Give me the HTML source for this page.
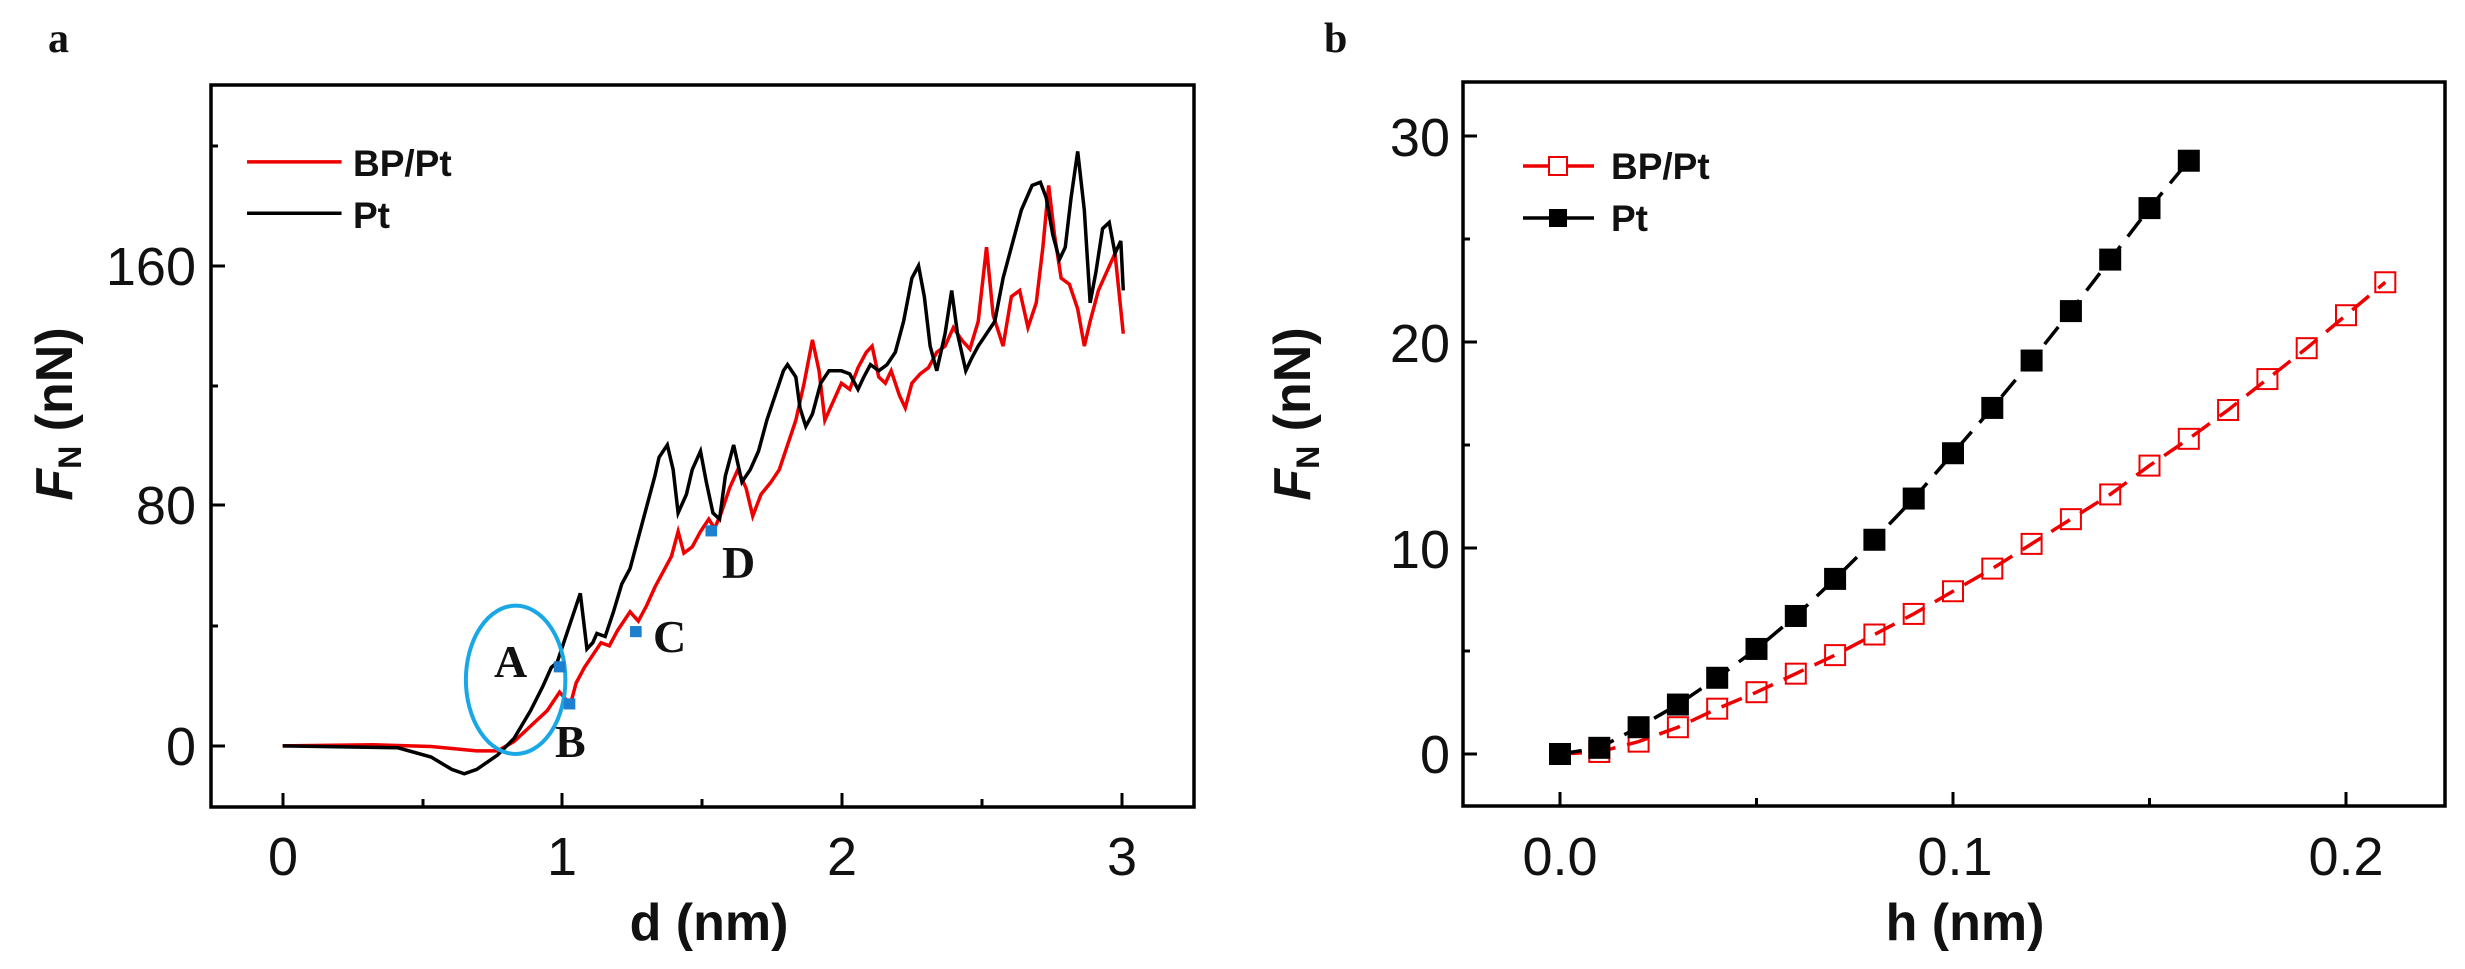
<!DOCTYPE html>
<html><head><meta charset="utf-8"><style>
html,body{margin:0;padding:0;background:#fff;}
svg{display:block;}
.t{font-family:"Liberation Sans Narrow","Liberation Sans",sans-serif;font-size:54px;fill:#111;}
.ax{font-family:"Liberation Sans Narrow","Liberation Sans",sans-serif;font-weight:bold;font-size:52px;fill:#111;}
.lg{font-family:"Liberation Sans",sans-serif;font-weight:bold;font-size:37px;fill:#111;}
.pl{font-family:"Liberation Serif",serif;font-weight:bold;font-size:42px;fill:#111;}
.lt{font-family:"Liberation Serif",serif;font-weight:bold;font-size:46px;fill:#111;}
</style></head><body>
<svg id="s" width="2465" height="969" viewBox="0 0 2465 969" xmlns="http://www.w3.org/2000/svg">
<rect width="2465" height="969" fill="#fff"/>
<!-- Panel a -->
<text class="pl" x="48" y="52">a</text>
<g transform="scale(0.829,0.618)" fill="none">
<polyline vector-effect="non-scaling-stroke" stroke="#e00" stroke-width="3.5" points="341,1207 450,1205 520,1208 575,1215 600,1215 620,1200 640,1175 660,1150 675,1120 688,1140 695,1105 705,1080 715,1060 725,1040 735,1045 745,1020 760,990 770,1005 780,980 790,950 800,925 810,900 818,860 825,895 835,885 845,860 855,840 862,855 870,830 880,790 890,760 900,790 908,835 918,800 930,780 940,760 950,720 960,680 970,620 980,550 988,600 995,680 1005,650 1015,620 1025,630 1035,595 1045,570 1052,560 1060,610 1068,620 1075,600 1085,640 1092,660 1100,620 1110,605 1120,595 1130,570 1140,560 1150,530 1160,550 1170,565 1180,520 1190,400 1198,510 1210,560 1220,480 1230,470 1240,530 1250,490 1258,400 1265,300 1272,380 1280,450 1290,460 1300,500 1308,560 1315,520 1325,470 1335,440 1345,410 1355,540"/>
<polyline vector-effect="non-scaling-stroke" stroke="#000" stroke-width="3.5" points="341,1207 480,1210 520,1225 545,1245 560,1252 575,1245 600,1222 620,1195 640,1150 655,1110 665,1080 672,1072 680,1040 690,1000 700,960 708,1050 715,1040 720,1025 730,1030 740,990 750,945 760,920 770,870 780,820 790,770 795,740 805,720 812,760 818,830 828,800 835,760 845,730 852,780 860,830 868,840 875,770 885,720 895,780 905,760 915,730 925,680 935,640 945,600 950,590 960,610 965,660 972,690 980,670 990,620 1000,600 1015,600 1025,605 1035,630 1042,610 1050,590 1060,600 1070,590 1080,570 1090,520 1100,450 1108,430 1115,480 1122,560 1130,600 1140,540 1148,470 1155,540 1165,600 1172,580 1180,560 1190,540 1200,520 1210,450 1220,400 1232,340 1245,300 1255,295 1262,320 1270,380 1278,420 1285,400 1292,320 1300,245 1308,340 1315,490 1322,440 1330,370 1338,360 1345,410 1352,390 1355,470"/>
<ellipse vector-effect="non-scaling-stroke" cx="622" cy="1100" rx="60" ry="120" stroke="#1aa7e6" stroke-width="4"/>
<g fill="#1c7fd0" stroke="none">
<rect x="668" y="1070" width="14" height="18"/><rect x="680" y="1130" width="14" height="18"/>
<rect x="760" y="1013" width="14" height="18"/><rect x="851" y="850" width="14" height="18"/>
</g>
<line vector-effect="non-scaling-stroke" x1="298" y1="262" x2="412" y2="262" stroke="#e00" stroke-width="3.5"/>
<line vector-effect="non-scaling-stroke" x1="298" y1="345" x2="412" y2="345" stroke="#000" stroke-width="3.5"/>
</g>
<rect x="211" y="85" width="983" height="722" fill="none" stroke="#000" stroke-width="3.5"/>
<g stroke="#000" stroke-width="3">
<line x1="283" y1="807" x2="283" y2="793"/><line x1="562" y1="807" x2="562" y2="793"/><line x1="842" y1="807" x2="842" y2="793"/><line x1="1122" y1="807" x2="1122" y2="793"/>
<line x1="423" y1="807" x2="423" y2="799"/><line x1="702" y1="807" x2="702" y2="799"/><line x1="982" y1="807" x2="982" y2="799"/>
<line x1="211" y1="746" x2="225" y2="746"/><line x1="211" y1="505" x2="225" y2="505"/><line x1="211" y1="266" x2="225" y2="266"/>
<line x1="211" y1="626" x2="218" y2="626"/><line x1="211" y1="386" x2="218" y2="386"/><line x1="211" y1="146" x2="218" y2="146"/>
</g>
<g class="t" text-anchor="middle">
<text x="283" y="875">0</text><text x="562" y="875">1</text><text x="842" y="875">2</text><text x="1122" y="875">3</text>
</g>
<g class="t" text-anchor="end">
<text x="196" y="765">0</text><text x="196" y="524">80</text><text x="196" y="285">160</text>
</g>
<text class="ax" x="709" y="940" text-anchor="middle">d (nm)</text>
<text class="ax" transform="translate(72,414) rotate(-90)" text-anchor="middle"><tspan font-style="italic">F</tspan><tspan font-size="32" dy="9">N</tspan><tspan dy="-9"> (nN)</tspan></text>
<text class="lg" x="353" y="176">BP/Pt</text>
<text class="lg" x="353" y="228">Pt</text>
<text class="lt" x="494" y="677">A</text>
<text class="lt" x="555" y="757">B</text>
<text class="lt" x="653" y="652">C</text>
<text class="lt" x="722" y="578">D</text>

<!-- Panel b -->
<text class="pl" x="1324" y="52">b</text>
<rect x="1463" y="82" width="982" height="724" fill="none" stroke="#000" stroke-width="3.5"/>
<g id="bt" stroke="#000" stroke-width="3"></g>
<g class="t" text-anchor="middle">
<text x="1560" y="875">0.0</text><text x="1955" y="875">0.1</text><text x="2346" y="875">0.2</text>
</g>
<g class="t" text-anchor="end">
<text x="1450" y="773">0</text><text x="1450" y="568">10</text><text x="1450" y="362">20</text><text x="1450" y="156">30</text>
</g>
<text class="ax" x="1965" y="940" text-anchor="middle">h (nm)</text>
<text class="ax" transform="translate(1310,414) rotate(-90)" text-anchor="middle"><tspan font-style="italic">F</tspan><tspan font-size="32" dy="9">N</tspan><tspan dy="-9"> (nN)</tspan></text>
<g id="bd"></g>
<line x1="1523" y1="166" x2="1594" y2="166" stroke="#e00" stroke-width="3.5"/>
<rect x="1549" y="157" width="18" height="18" fill="#fff" stroke="#e00" stroke-width="2"/>
<line x1="1523" y1="218" x2="1594" y2="218" stroke="#000" stroke-width="3.5"/>
<rect x="1549" y="209" width="18" height="18" fill="#000"/>
<text class="lg" x="1611" y="179">BP/Pt</text>
<text class="lg" x="1611" y="231">Pt</text>
</svg>
<script>
(function(){
var NS="http://www.w3.org/2000/svg";
function X(h){return 1560+h*3930;}
function Y(f){return 754-f*20.6;}
var bt=document.getElementById("bt"),bd=document.getElementById("bd");
function ln(p,x1,y1,x2,y2){var l=document.createElementNS(NS,"line");l.setAttribute("x1",x1);l.setAttribute("y1",y1);l.setAttribute("x2",x2);l.setAttribute("y2",y2);p.appendChild(l);}
[0,0.1,0.2].forEach(function(h){ln(bt,X(h),806,X(h),792);});
[0.05,0.15].forEach(function(h){ln(bt,X(h),806,X(h),798);});
[0,10,20,30].forEach(function(f){ln(bt,1463,Y(f),1477,Y(f));});
[5,15,25].forEach(function(f){ln(bt,1463,Y(f),1470,Y(f));});
var pt=[0,0.3,1.3,2.4,3.7,5.1,6.7,8.5,10.4,12.4,14.6,16.8,19.1,21.5,24,26.5,28.8];
var bp=[0,0.1,0.6,1.3,2.2,3.0,3.9,4.8,5.8,6.8,7.9,9.0,10.2,11.4,12.6,14.0,15.3,16.7,18.2,19.7,21.3,22.9];
function curve(a,c){var pl=document.createElementNS(NS,"polyline");var s="";a.forEach(function(v,i){s+=X(i*0.01)+","+Y(v)+" ";});pl.setAttribute("points",s);pl.setAttribute("fill","none");pl.setAttribute("stroke",c);pl.setAttribute("stroke-width","3.5");pl.setAttribute("stroke-dasharray","22,12");bd.appendChild(pl);}
curve(bp,"#e00");curve(pt,"#000");
bp.forEach(function(v,i){var r=document.createElementNS(NS,"rect");r.setAttribute("x",X(i*0.01)-10);r.setAttribute("y",Y(v)-10);r.setAttribute("width",20);r.setAttribute("height",20);r.setAttribute("fill","none");r.setAttribute("stroke","#e00");r.setAttribute("stroke-width","2");bd.appendChild(r);});
pt.forEach(function(v,i){var r=document.createElementNS(NS,"rect");r.setAttribute("x",X(i*0.01)-11);r.setAttribute("y",Y(v)-11);r.setAttribute("width",22);r.setAttribute("height",22);r.setAttribute("fill","#000");bd.appendChild(r);});
})();
</script>
</body></html>
